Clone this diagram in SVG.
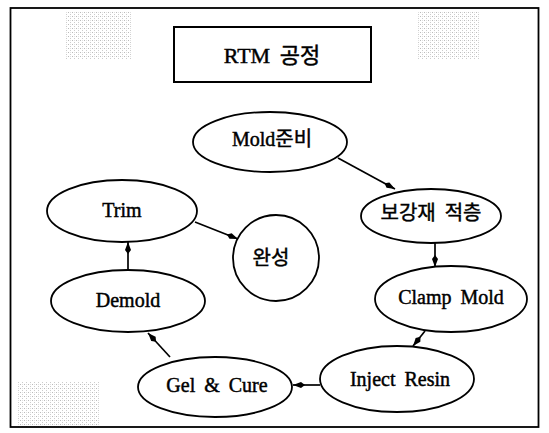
<svg xmlns="http://www.w3.org/2000/svg" width="549" height="433" viewBox="0 0 549 433">
<defs>
<style>
.n{fill:#fff;stroke:#000;stroke-width:1.8}
.t{font-family:"Liberation Serif","Times New Roman","Noto Sans CJK KR",serif;font-size:20px;fill:#000;stroke:#000;stroke-width:0.45;text-anchor:middle;dominant-baseline:central;word-spacing:4px}
.c{stroke:#000;stroke-width:1.7;fill:none;marker-end:url(#ah)}
.sp{fill:url(#dots)}
</style>
<marker id="ah" viewBox="0 0 12 8" refX="12" refY="4" markerWidth="12" markerHeight="8" markerUnits="userSpaceOnUse" orient="auto">
<path d="M0,4 L4,1 L12,4 L4,7 Z" fill="#000"/>
</marker>
<pattern id="dots" width="4" height="4" patternUnits="userSpaceOnUse">
<rect x="0" y="0" width="1" height="1" fill="#bbb"/>
<rect x="2" y="2" width="1" height="1" fill="#ccc"/>
<rect x="2" y="0" width="1" height="1" fill="#e0e0e0"/>
</pattern>
</defs>
<rect width="549" height="433" fill="#fff"/>
<rect class="sp" x="66" y="11" width="65" height="49"/>
<rect class="sp" x="418" y="11" width="62" height="49"/>
<rect class="sp" x="18" y="381" width="82" height="46"/>
<rect x="10.5" y="8" width="528" height="419" fill="none" stroke="#000" stroke-width="1.8"/>
<g id="title">
<rect x="174" y="27" width="197" height="55" fill="#fff" stroke="#000" stroke-width="2"/>
<text class="t" x="272" y="55" style="font-size:22px">RTM 공정</text>
</g>
<g id="connectors">
<line class="c" x1="338" y1="158" x2="395" y2="189"/>
<line class="c" x1="435" y1="243" x2="435" y2="267"/>
<line class="c" x1="425" y1="331" x2="413" y2="346"/>
<line class="c" x1="320" y1="385" x2="293" y2="385"/>
<line class="c" x1="170" y1="357" x2="148" y2="333"/>
<line class="c" x1="128" y1="270" x2="128" y2="242"/>
<line class="c" x1="195" y1="222" x2="238" y2="239"/>
</g>
<g id="mold"><ellipse class="n" cx="270" cy="142" rx="77" ry="30"/><text class="t" x="272" y="139">Mold준비</text></g>
<g id="bogang"><ellipse class="n" cx="431" cy="216" rx="70" ry="27"/><text class="t" x="431" y="213">보강재 적층</text></g>
<g id="clamp"><ellipse class="n" cx="451" cy="299" rx="76" ry="33"/><text class="t" x="451" y="297">Clamp Mold</text></g>
<g id="inject"><ellipse class="n" cx="397" cy="379" rx="77" ry="33"/><text class="t" x="400" y="379">Inject Resin</text></g>
<g id="gel"><ellipse class="n" cx="215" cy="387" rx="77" ry="30"/><text class="t" x="217" y="385">Gel &amp; Cure</text></g>
<g id="demold"><ellipse class="n" cx="128" cy="301" rx="77" ry="31"/><text class="t" x="128" y="300">Demold</text></g>
<g id="trim"><ellipse class="n" cx="122" cy="211" rx="75" ry="31"/><text class="t" x="122" y="210">Trim</text></g>
<g id="wanseong"><circle class="n" cx="276" cy="258" r="43"/><text class="t" x="271" y="258">완성</text></g>
</svg>
